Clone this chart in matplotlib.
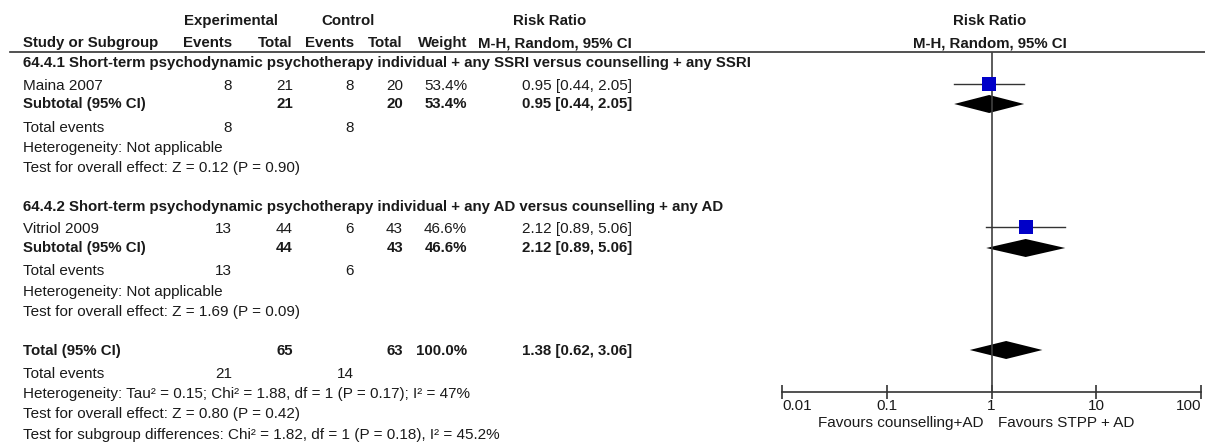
import numpy as np
import matplotlib.pyplot as plt

plt.rcParams['font.family'] = ['Liberation Sans', 'DejaVu Sans']

# Data
subgroups = ["64.4.1 Short-term psychodynamic psychotherapy individual + any SSRI versus counselling + any SSRI",
             "64.4.2 Short-term psychodynamic psychotherapy individual + any AD versus counselling + any AD"]
studies = ["Maina 2007", "Vitriol 2009"]
exp_events = [8, 13]
exp_total = [21, 44]
ctl_events = [8, 6]
ctl_total = [20, 43]
weights = [53.4, 46.6]
rr = [0.95, 2.12]
rr_lo = [0.44, 0.89]
rr_hi = [2.05, 5.06]
sub_het = ["Heterogeneity: Not applicable", "Heterogeneity: Not applicable"]
sub_test = ["Test for overall effect: Z = 0.12 (P = 0.90)", "Test for overall effect: Z = 1.69 (P = 0.09)"]

tot_exp, tot_ctl = 65, 63
tot_exp_ev, tot_ctl_ev = 21, 14
tot_rr, tot_lo, tot_hi = 1.38, 0.62, 3.06
tot_notes = ["Heterogeneity: Tau\u00b2 = 0.15; Chi\u00b2 = 1.88, df = 1 (P = 0.17); I\u00b2 = 47%",
             "Test for overall effect: Z = 0.80 (P = 0.42)",
             "Test for subgroup differences: Chi\u00b2 = 1.82, df = 1 (P = 0.18), I\u00b2 = 45.2%"]
axis_ticks = [0.01, 0.1, 1, 10, 100]
favours = ["Favours counselling+AD", "Favours STPP + AD"]

W, H = 1205, 443
fig = plt.figure(figsize=(W / 100, H / 100), dpi=100)
tx = fig.add_axes([0, 0, 1, 1])
tx.set_xlim(0, W)
tx.set_ylim(H, 0)
tx.axis('off')

fs = 11      # regular text
fsb = 10.8   # bold text
col = '#1a1a1a'

def t(x, y, s, ha='left', bold=False):
    tx.text(x, y, s, ha=ha, va='center', fontsize=fsb if bold else fs, color=col,
            fontweight='bold' if bold else 'normal')

# columns (right edges)
c_study, c_ee, c_et, c_ce, c_ct, c_w, c_rr = 23, 232, 293, 354, 403, 467, 632

# header
t(231, 21, "Experimental", 'center', True)
t(348, 21, "Control", 'center', True)
t(550, 21, "Risk Ratio", 'center', True)
t(990, 21, "Risk Ratio", 'center', True)
t(c_study, 43, "Study or Subgroup", bold=True)
t(c_ee, 43, "Events", 'right', True)
t(c_et, 43, "Total", 'right', True)
t(c_ce, 43, "Events", 'right', True)
t(c_ct, 43, "Total", 'right', True)
t(c_w, 43, "Weight", 'right', True)
t(c_rr, 43, "M-H, Random, 95% CI", 'right', True)
t(990, 43, "M-H, Random, 95% CI", 'center', True)
tx.plot([10, W], [52, 52], color='#333333', lw=1.2)

# forest axes: x log scale mapped onto pixel span 782..1201, y in pixel rows
x0, x1 = 782, 1201
ytop, ybot = 52, 392
fx = fig.add_axes([x0 / W, 1 - ybot / H, (x1 - x0) / W, (ybot - ytop) / H])
fx.set_xscale('log')
fx.set_xlim(axis_ticks[0], axis_ticks[-1])
fx.set_ylim(ybot, ytop)
fx.patch.set_alpha(0)
for s in ['top', 'right', 'left']:
    fx.spines[s].set_visible(False)
fx.spines['bottom'].set_color('#333333')
fx.spines['bottom'].set_linewidth(1.2)
fx.set_yticks([])
fx.set_xticks(axis_ticks)
labels = fx.set_xticklabels([f"{v:g}" for v in axis_ticks])
labels[0].set_ha('left')
labels[-1].set_ha('right')
fx.minorticks_off()
fx.tick_params(axis='x', direction='inout', length=10, width=1.2, color='#333333',
               labelsize=fs, labelcolor=col, pad=0)
fx.axvline(1, color='#404040', lw=1.2)

def diamond(y, est, lo, hi, h=9):
    fx.fill([lo, est, hi, est], [y, y - h, y, y + h], color='black', lw=0)

group_y = [(63, 86, 104, 128, 148, 168), (207, 229, 248, 271, 292, 312)]
for i, (yh, ys, ysub, yev, yhet, ytest) in enumerate(group_y):
    t(c_study, yh, subgroups[i], bold=True)
    t(c_study, ys, studies[i])
    t(c_ee, ys, str(exp_events[i]), 'right')
    t(c_et, ys, str(exp_total[i]), 'right')
    t(c_ce, ys, str(ctl_events[i]), 'right')
    t(c_ct, ys, str(ctl_total[i]), 'right')
    t(c_w, ys, f"{weights[i]:.1f}%", 'right')
    t(c_rr, ys, f"{rr[i]:.2f} [{rr_lo[i]:.2f}, {rr_hi[i]:.2f}]", 'right')
    t(c_study, ysub, "Subtotal (95% CI)", bold=True)
    t(c_et, ysub, str(exp_total[i]), 'right', True)
    t(c_ct, ysub, str(ctl_total[i]), 'right', True)
    t(c_w, ysub, f"{weights[i]:.1f}%", 'right', True)
    t(c_rr, ysub, f"{rr[i]:.2f} [{rr_lo[i]:.2f}, {rr_hi[i]:.2f}]", 'right', True)
    t(c_study, yev, "Total events")
    t(c_ee, yev, str(exp_events[i]), 'right')
    t(c_ce, yev, str(ctl_events[i]), 'right')
    t(c_study, yhet, sub_het[i])
    t(c_study, ytest, sub_test[i])
    # forest marks
    fx.plot([rr_lo[i], rr_hi[i]], [ys - 2, ys - 2], color='#333333', lw=1)
    fx.scatter([rr[i]], [ys - 2], marker='s', s=95, color='#0000c8', zorder=3, lw=0)
    diamond(ysub, rr[i], rr_lo[i], rr_hi[i])

# overall
t(c_study, 351, "Total (95% CI)", bold=True)
t(c_et, 351, str(tot_exp), 'right', True)
t(c_ct, 351, str(tot_ctl), 'right', True)
t(c_w, 351, "100.0%", 'right', True)
t(c_rr, 351, f"{tot_rr:.2f} [{tot_lo:.2f}, {tot_hi:.2f}]", 'right', True)
t(c_study, 374, "Total events")
t(c_ee, 374, str(tot_exp_ev), 'right')
t(c_ce, 374, str(tot_ctl_ev), 'right')
for yy, s in zip([394, 414, 435], tot_notes):
    t(c_study, yy, s)
diamond(350, tot_rr, tot_lo, tot_hi)

t(984, 423, favours[0], 'right')
t(998, 423, favours[1], 'left')

fig.savefig('out.png', dpi=100)
